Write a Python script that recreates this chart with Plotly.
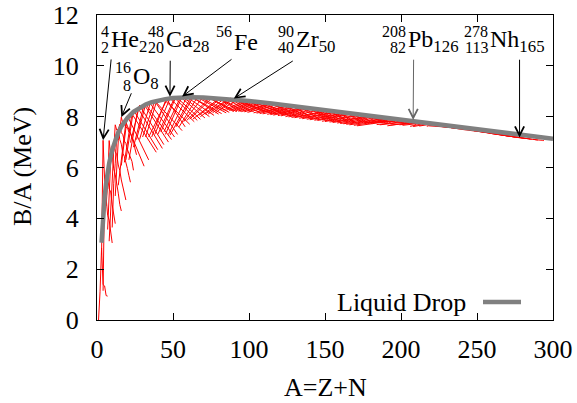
import plotly.graph_objects as go

# ---------------- data ----------------
X_TICKS = [0, 50, 100, 150, 200, 250, 300]
Y_TICKS = [0, 2, 4, 6, 8, 10, 12]

# Liquid-drop curve (grey)
LD_A = [3, 4, 5, 6, 7, 8, 10, 12, 14, 16, 18, 20, 24, 28, 32, 36, 40, 45, 50, 56, 62, 70,
        80, 90, 100, 115, 130, 150, 170, 190, 210, 230, 250, 270, 290, 300]
LD_BA = [3.04, 4.10, 4.83, 5.38, 5.81, 6.16, 6.69, 7.08, 7.38, 7.61, 7.80, 7.95, 8.19, 8.36,
         8.48, 8.57, 8.63, 8.69, 8.73, 8.75, 8.76, 8.75, 8.72, 8.68, 8.62, 8.52, 8.41, 8.26,
         8.10, 7.95, 7.79, 7.64, 7.49, 7.34, 7.20, 7.13]

# light isotope chains (Z = 1..8): first mass number and B/A for consecutive A
LIGHT_A0 = [1, 3, 4, 6, 7, 8, 10, 12]
LIGHT_BA = [
    [0.00, 1.11, 2.83, 1.39, 1.34, 0.96, 0.94],
    [2.57, 7.07, 5.51, 4.88, 4.12, 3.93, 3.35, 3.03],
    [1.15, 5.27, 5.33, 5.61, 5.16, 5.04, 4.53, 4.16, 3.79],
    [4.49, 5.37, 7.06, 6.46, 6.50, 5.95, 5.72, 5.24, 4.99, 4.54, 4.29],
    [3.56, 4.72, 6.26, 6.48, 6.93, 6.63, 6.50, 6.10, 5.88, 5.51, 5.27, 4.98, 4.72],
    [3.10, 4.34, 6.03, 6.68, 7.68, 7.47, 7.52, 7.10, 6.92, 6.56, 6.43, 6.12, 5.96, 5.68, 5.42],
    [3.64, 5.36, 6.17, 7.24, 7.48, 7.70, 7.37, 7.29, 7.04, 6.95, 6.71, 6.55, 6.38, 6.24, 5.89],
    [4.88, 5.81, 7.05, 7.46, 7.98, 7.75, 7.77, 7.57, 7.57, 7.39, 7.36, 7.16, 7.04, 6.73, 6.50],
]

# heavier isotope chains (Z = 9..117): lightest isotope, most bound isotope, heaviest isotope
CH_Z = list(range(9, 118))
CH_A_LO = [14, 16, 18, 19, 21, 22, 24, 26, 28, 30, 32, 34, 36, 38, 40, 42, 44, 45, 47, 48,
           52, 54, 57, 59, 61, 63, 67, 68, 71, 73, 76, 78, 81, 83, 85, 87, 89, 91, 93, 95,
           97, 99, 103, 105, 107, 109, 112, 114, 116, 119, 121, 124, 126, 128, 130, 133, 135, 138, 140, 143,
           145, 148, 150, 153, 155, 158, 160, 162, 164, 166, 169, 171, 176, 178, 184, 186, 191, 193, 199, 201,
           206, 208, 212, 217, 225, 228, 230, 233, 234, 237, 240, 241, 245, 248, 251, 253, 255, 258, 260, 263,
           266, 267, 272, 276, 278, 284, 287, 289, 293]
CH_B_LO = [5.30, 6.08, 6.20, 6.30, 6.30, 6.98, 6.80, 7.10, 7.10, 7.20, 7.20, 7.20, 7.20, 7.30, 7.30, 7.40, 7.40, 7.30, 7.30, 7.27,
           7.60, 7.60, 7.80, 7.85, 7.90, 7.90, 8.05, 8.00, 8.10, 8.10, 8.15, 8.15, 8.27, 8.26, 8.25, 8.24, 8.23, 8.22, 8.21, 8.20,
           8.19, 8.17, 8.15, 8.14, 8.12, 8.11, 8.09, 8.08, 8.06, 8.04, 8.03, 8.00, 7.99, 7.97, 7.96, 7.94, 7.92, 7.90, 7.88, 7.86,
           7.85, 7.82, 7.81, 7.79, 7.77, 7.75, 7.73, 7.72, 7.70, 7.68, 7.66, 7.64, 7.76, 7.74, 7.69, 7.68, 7.64, 7.67, 7.68, 7.66,
           7.62, 7.61, 7.63, 7.62, 7.62, 7.60, 7.58, 7.56, 7.55, 7.53, 7.50, 7.49, 7.46, 7.44, 7.42, 7.40, 7.38, 7.35, 7.33, 7.31,
           7.28, 7.27, 7.23, 7.20, 7.18, 7.13, 7.11, 7.09, 7.06]
CH_A_PK = [19, 20, 23, 24, 27, 28, 31, 32, 35, 38, 39, 46, 45, 48, 51, 52, 55, 56, 59, 62,
           63, 66, 69, 74, 75, 80, 81, 84, 87, 88, 89, 90, 93, 98, 99, 102, 103, 106, 109, 114,
           115, 120, 123, 128, 127, 132, 133, 138, 139, 140, 141, 144, 147, 152, 153, 158, 159, 164, 165, 168,
           169, 174, 175, 180, 181, 184, 187, 192, 193, 196, 197, 202, 205, 208, 209, 210, 211, 212, 213, 214,
           215, 216, 217, 218, 237, 239, 241, 244, 247, 250, 252, 254, 256, 258, 260, 263, 266, 269, 271, 274,
           276, 279, 280, 283, 284, 287, 289, 291, 294]
CH_B_PK = [7.78, 8.03, 8.11, 8.26, 8.33, 8.45, 8.48, 8.49, 8.52, 8.61, 8.56, 8.67, 8.62, 8.72, 8.74, 8.78, 8.77, 8.79, 8.77, 8.79,
           8.75, 8.76, 8.72, 8.73, 8.70, 8.71, 8.70, 8.72, 8.71, 8.73, 8.71, 8.71, 8.66, 8.64, 8.61, 8.61, 8.58, 8.58, 8.55, 8.53,
           8.52, 8.50, 8.47, 8.45, 8.45, 8.43, 8.41, 8.39, 8.38, 8.38, 8.35, 8.33, 8.28, 8.24, 8.23, 8.20, 8.19, 8.16, 8.15, 8.13,
           8.11, 8.09, 8.07, 8.03, 8.02, 8.01, 7.98, 7.95, 7.94, 7.93, 7.92, 7.90, 7.88, 7.87, 7.85, 7.83, 7.81, 7.79, 7.77, 7.75,
           7.73, 7.70, 7.68, 7.64, 7.57, 7.56, 7.54, 7.51, 7.49, 7.47, 7.46, 7.43, 7.40, 7.38, 7.36, 7.33, 7.30, 7.27, 7.25, 7.22,
           7.20, 7.17, 7.16, 7.14, 7.13, 7.11, 7.09, 7.08, 7.06]
CH_A_HI = [31, 34, 39, 40, 43, 44, 47, 49, 51, 53, 56, 58, 61, 64, 66, 68, 71, 74, 77, 80,
           82, 85, 87, 90, 92, 95, 98, 101, 103, 106, 109, 112, 115, 117, 120, 124, 126, 128, 130, 132,
           135, 138, 140, 142, 144, 147, 151, 153, 155, 157, 159, 161, 163, 165, 167, 169, 171, 173, 175, 177,
           179, 181, 184, 188, 190, 192, 194, 196, 199, 202, 205, 210, 212, 215, 218, 220, 223, 228, 232, 234,
           236, 238, 240, 242, 244, 247, 249, 252, 253, 256, 258, 260, 262, 264, 266, 268, 270, 273, 275, 277,
           278, 281, 282, 285, 286, 289, 290, 293, 294]
CH_B_HI = [6.05, 6.30, 6.60, 6.70, 6.75, 6.90, 7.00, 7.10, 7.20, 7.30, 7.45, 7.60, 7.70, 7.80, 7.85, 7.90, 7.95, 8.00, 8.05, 8.10,
           8.12, 8.15, 8.17, 8.20, 8.20, 8.20, 8.20, 8.20, 8.20, 8.20, 8.20, 8.18, 8.12, 8.10, 8.08, 8.05, 8.04, 8.02, 8.01, 8.00,
           7.97, 7.95, 7.93, 7.92, 7.90, 7.88, 7.85, 7.83, 7.82, 7.80, 7.79, 7.77, 7.80, 7.79, 7.78, 7.76, 7.74, 7.78, 7.76, 7.75,
           7.73, 7.72, 7.79, 7.76, 7.75, 7.73, 7.72, 7.80, 7.78, 7.75, 7.73, 7.69, 7.73, 7.70, 7.68, 7.66, 7.64, 7.60, 7.57, 7.56,
           7.56, 7.56, 7.55, 7.54, 7.51, 7.49, 7.47, 7.45, 7.44, 7.42, 7.40, 7.37, 7.34, 7.32, 7.30, 7.28, 7.25, 7.22, 7.20, 7.18,
           7.17, 7.15, 7.14, 7.12, 7.11, 7.09, 7.08, 7.07, 7.06]

# labelled nuclei
NUC_SYM = ["He", "O", "Ca", "Fe", "Zr", "Pb", "Nh"]
NUC_MASS = ["4", "16", "48", "56", "90", "208", "278"]
NUC_Z = ["2", "8", "20", "", "40", "82", "113"]
NUC_N = ["2", "8", "28", "", "50", "126", "165"]
NUC_A = [4, 16, 48, 56, 90, 208, 278]            # arrow tip (A)
NUC_BA = [7.07, 7.98, 8.78, 8.79, 8.71, 7.87, 7.18]  # arrow tip (B/A)
TAIL_A = [9.4, 23.0, 48.2, 89.5, 129.8, 208.3, 278.0]
TAIL_BA = [10.31, 8.98, 10.26, 10.30, 10.23, 10.30, 10.30]
ARROW_COLORS = ["black", "black", "black", "black", "black", "#666666", "black"]
# label placement (pixels: left edge of element symbol, vertical centre)
LABEL_PX = [110, 132, 165, 233, 295, 407, 489]
LABEL_PY = [41, 78, 41, 42, 41, 41, 41]

# ---------------- figure ----------------
W, H = 577, 403
PL, PR, PT, PB = 97, 553, 15, 320
FONT = "Liberation Serif"


def px(xp):
    return (xp - PL) / (PR - PL)


def py(yp):
    return (PB - yp) / (PB - PT)


xs, ys = [], []
for a0, bas in zip(LIGHT_A0, LIGHT_BA):
    xs += [a0 + i for i in range(len(bas))] + [None]
    ys += list(bas) + [None]
for i in range(len(CH_Z)):
    xs += [CH_A_LO[i], CH_A_PK[i], CH_A_HI[i], None]
    ys += [CH_B_LO[i], CH_B_PK[i], CH_B_HI[i], None]

fig = go.Figure()
fig.add_trace(go.Scatter(x=xs, y=ys, mode="lines", line=dict(color="#ff0000", width=1),
                         showlegend=False, hoverinfo="skip"))
fig.add_trace(go.Scatter(x=LD_A, y=LD_BA, mode="lines", line=dict(color="#808080", width=4.5),
                         name="Liquid Drop", showlegend=False))

ann = []
for i in range(len(NUC_SYM)):
    ann.append(dict(x=NUC_A[i], y=NUC_BA[i], ax=TAIL_A[i], ay=TAIL_BA[i], xref="x", yref="y",
                    axref="x", ayref="y", text="", showarrow=True, arrowhead=5, arrowsize=1.8,
                    arrowwidth=1, arrowcolor=ARROW_COLORS[i], standoff=0, startstandoff=0))
    main = NUC_SYM[i] + ("<sub>%s</sub>" % NUC_N[i] if NUC_N[i] else "")
    ann.append(dict(x=px(LABEL_PX[i]), y=py(LABEL_PY[i]), xref="paper", yref="paper",
                    text=main, showarrow=False, xanchor="left", yanchor="middle",
                    font=dict(family=FONT, size=24, color="black"), borderpad=0))
    ann.append(dict(x=px(LABEL_PX[i]), y=py(LABEL_PY[i] - 10), xref="paper", yref="paper",
                    text=NUC_MASS[i], showarrow=False, xanchor="right", yanchor="middle",
                    font=dict(family=FONT, size=16, color="black"), borderpad=0))
    if NUC_Z[i]:
        ann.append(dict(x=px(LABEL_PX[i]), y=py(LABEL_PY[i] + 7), xref="paper", yref="paper",
                        text=NUC_Z[i], showarrow=False, xanchor="right", yanchor="middle",
                        font=dict(family=FONT, size=16, color="black"), borderpad=0))

# axis titles
ann.append(dict(x=px(22), y=py(167), xref="paper", yref="paper", text="B/A (MeV)",
                textangle=-90, showarrow=False, xanchor="center", yanchor="middle",
                font=dict(family=FONT, size=26, color="black")))
ann.append(dict(x=px(325), y=py(388), xref="paper", yref="paper", text="A=Z+N",
                showarrow=False, xanchor="center", yanchor="middle",
                font=dict(family=FONT, size=26, color="black")))
# legend
ann.append(dict(x=px(467), y=py(302), xref="paper", yref="paper", text="Liquid Drop",
                showarrow=False, xanchor="right", yanchor="middle",
                font=dict(family=FONT, size=26, color="black"), borderpad=0))
shapes = [dict(type="line", xref="paper", yref="paper", x0=px(483), x1=px(521),
               y0=py(302), y1=py(302), line=dict(color="#808080", width=4.5))]

fig.update_layout(
    width=W, height=H, margin=dict(l=PL, r=W - PR, t=PT, b=H - PB, autoexpand=False),
    plot_bgcolor="white", paper_bgcolor="white",
    font=dict(family=FONT, size=26, color="black"),
    annotations=ann, shapes=shapes, showlegend=False,
)
axis_common = dict(ticks="inside", ticklen=7, tickwidth=1, tickcolor="black", showline=True,
                   linecolor="black", linewidth=1, mirror="ticks", showgrid=False, zeroline=False,
                   automargin=False, tickfont=dict(family=FONT, size=26, color="black"))
fig.update_xaxes(range=[0, 300], tickvals=X_TICKS, ticktext=[str(v) for v in X_TICKS],
                 ticklabelstandoff=6, **axis_common)
fig.update_yaxes(range=[0, 12], tickvals=Y_TICKS, ticktext=[str(v) for v in Y_TICKS],
                 ticklabelstandoff=12, **axis_common)

fig.write_html("out.html")
